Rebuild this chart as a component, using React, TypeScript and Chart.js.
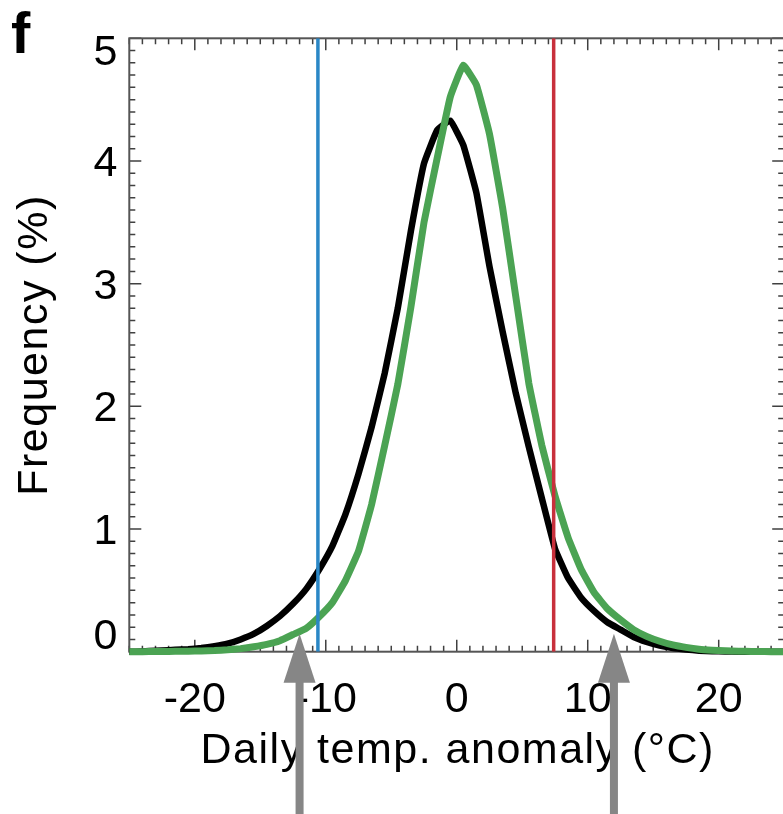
import React, { useEffect, useRef } from 'react';
import { Chart, registerables } from 'chart.js';

Chart.register(...registerables);

// ---- data ----
const tempBins = [
  -25, -24.5, -23.5, -22.5, -21.5, -20.5, -19.5, -18.5, -17.5, -16.5, -15.5, -14.5, -13.5,
  -12.5, -11.5, -10.5, -9.5, -8.5, -7.5, -6.5, -5.5, -4.5, -3.5, -2.5, -1.5, -0.5,
  0.5, 1.5, 2.5, 3.5, 4.5, 5.5, 6.5, 7.5, 8.5, 9.5, 10.5, 11.5, 12.5,
  13.5, 14.5, 15.5, 16.5, 17.5, 18.5, 19.5, 20.5, 21.5, 22.5, 23.5, 24.5, 25,
];

const blackFreq = [
  0, 0, 0.005, 0.01, 0.015, 0.02, 0.03, 0.045, 0.065, 0.1, 0.145, 0.21, 0.29,
  0.39, 0.51, 0.67, 0.86, 1.12, 1.45, 1.83, 2.27, 2.8, 3.43, 3.98, 4.25, 4.33,
  4.13, 3.74, 3.14, 2.61, 2.11, 1.67, 1.25, 0.84, 0.6, 0.44, 0.33, 0.24, 0.18,
  0.12, 0.08, 0.05, 0.03, 0.018, 0.008, 0.004, 0.002, 0, 0, 0, 0, 0,
];

const greenFreq = [
  0, 0, 0.001, 0.002, 0.003, 0.004, 0.006, 0.009, 0.015, 0.025, 0.04, 0.06, 0.09,
  0.14, 0.19, 0.285, 0.4, 0.58, 0.82, 1.2, 1.68, 2.18, 2.81, 3.5, 4.02, 4.52,
  4.78, 4.62, 4.22, 3.62, 2.9, 2.19, 1.68, 1.27, 0.93, 0.67, 0.48, 0.35, 0.26,
  0.18, 0.125, 0.085, 0.055, 0.035, 0.02, 0.012, 0.007, 0.004, 0.002, 0.001, 0, 0,
];

const coldThreshold = -10.6; // blue line
const warmThreshold = 7.4; // red line
const arrowPositions = [-12, 12];

const xRange = [-25, 25];
const yRange = [0, 5];
const xMajorTicks = [-20, -10, 0, 10, 20];
const xTickLabels = ['-20', '-10', '0', '10', '20'];
const yMajorTicks = [0, 1, 2, 3, 4, 5];
const yTickLabels = ['0', '1', '2', '3', '4', '5'];
const xTitle = 'Daily temp. anomaly (\u00B0C)';
const yTitle = 'Frequency (%)';
const panelLabel = 'f';

const FONT = '"Liberation Sans", Arial, Helvetica, sans-serif';

const framePlugin = {
  id: 'idlFrame',
  beforeDatasetsDraw(chart: any) {
    const { ctx, chartArea } = chart;
    const { left, right, top, bottom } = chartArea;
    const xs = chart.scales.x;
    const ys = chart.scales.y;
    ctx.save();
    ctx.strokeStyle = '#404040';
    ctx.lineWidth = 1.5;
    ctx.beginPath();
    for (let v = xRange[0]; v <= xRange[1]; v += 1) {
      const px = xs.getPixelForValue(v);
      const len = xMajorTicks.includes(v) ? 12 : 6;
      ctx.moveTo(px, bottom);
      ctx.lineTo(px, bottom - len);
      ctx.moveTo(px, top);
      ctx.lineTo(px, top + len);
    }
    for (let i = 0; i <= 50; i++) {
      const v = i / 10;
      const py = ys.getPixelForValue(v);
      const len = i % 10 === 0 ? 12 : 6;
      ctx.moveTo(left, py);
      ctx.lineTo(left + len, py);
      ctx.moveTo(right, py);
      ctx.lineTo(right - len, py);
    }
    ctx.stroke();
    ctx.strokeStyle = '#555555';
    ctx.lineWidth = 2;
    ctx.strokeRect(left, top, right - left, bottom - top);
    ctx.restore();
  },
  afterDraw(chart: any) {
    const { ctx, chartArea, height } = chart;
    const { left, right, top, bottom } = chartArea;
    const xs = chart.scales.x;
    const ys = chart.scales.y;
    ctx.save();
    ctx.fillStyle = '#000';
    ctx.font = `43px ${FONT}`;
    ctx.textAlign = 'center';
    ctx.textBaseline = 'alphabetic';
    xMajorTicks.forEach((v, i) => {
      ctx.fillText(xTickLabels[i], xs.getPixelForValue(v), bottom + 60);
    });
    ctx.textAlign = 'right';
    yMajorTicks.forEach((v, i) => {
      const py = ys.getPixelForValue(v);
      let base = py + 15;
      if (base - 29 < top) base = top + 27;
      if (base > bottom - 3) base = bottom - 3;
      ctx.fillText(yTickLabels[i], left - 12, base);
    });
    // titles (slightly wider set, as in the original)
    (ctx as any).letterSpacing = '1.5px';
    ctx.textAlign = 'center';
    ctx.fillText(xTitle, (left + right) / 2 + 1, bottom + 111);
    ctx.save();
    ctx.translate(47, (top + bottom) / 2);
    ctx.rotate(-Math.PI / 2);
    ctx.fillText(yTitle, 0, 0);
    ctx.restore();
    (ctx as any).letterSpacing = '0px';
    ctx.textAlign = 'left';
    ctx.font = `bold 58px ${FONT}`;
    ctx.fillText(panelLabel, 11, 53);
    // arrows
    ctx.fillStyle = '#868686';
    arrowPositions.forEach((v) => {
      const px = xs.getPixelForValue(v);
      const tipY = bottom - 18;
      const baseY = bottom + 31;
      ctx.fillRect(px - 4, baseY - 1, 8, height - baseY + 1);
      ctx.beginPath();
      ctx.moveTo(px, tipY);
      ctx.lineTo(px - 16, baseY);
      ctx.lineTo(px + 16, baseY);
      ctx.closePath();
      ctx.fill();
    });
    ctx.restore();
  },
};

export default function App() {
  const canvasRef = useRef<HTMLCanvasElement | null>(null);

  useEffect(() => {
    document.body.style.margin = '0';
    document.documentElement.style.overflow = 'hidden';
    document.body.style.overflow = 'hidden';
    const canvas = canvasRef.current;
    if (!canvas) return;
    const toPts = (ys: number[]) => tempBins.map((x, i) => ({ x, y: ys[i] }));
    const chart = new Chart(canvas, {
      type: 'line',
      data: {
        datasets: [
          {
            label: 'cold',
            data: [
              { x: coldThreshold, y: yRange[0] },
              { x: coldThreshold, y: yRange[1] },
            ],
            borderColor: '#2a87c6',
            borderWidth: 3.5,
            pointRadius: 0,
            order: 0,
          },
          {
            label: 'warm',
            data: [
              { x: warmThreshold, y: yRange[0] },
              { x: warmThreshold, y: yRange[1] },
            ],
            borderColor: '#c8303c',
            borderWidth: 3.5,
            pointRadius: 0,
            order: 0,
          },
          {
            label: 'future',
            data: toPts(greenFreq),
            borderColor: '#4ba353',
            borderWidth: 7,
            pointRadius: 0,
            tension: 0.1,
            clip: false as any,
            order: 1,
          },
          {
            label: 'present',
            data: toPts(blackFreq),
            borderColor: '#000000',
            borderWidth: 6.5,
            pointRadius: 0,
            tension: 0.1,
            clip: false as any,
            order: 2,
          },
        ],
      },
      options: {
        responsive: false,
        animation: false,
        events: [],
        layout: { padding: { left: 129.3, top: 38.3, right: 790 - 784.2, bottom: 814 - 651.7 } },
        plugins: { legend: { display: false }, tooltip: { enabled: false } },
        scales: {
          x: { type: 'linear', min: xRange[0], max: xRange[1], display: false },
          y: { type: 'linear', min: yRange[0], max: yRange[1], display: false },
        },
      },
      plugins: [framePlugin],
    });
    return () => chart.destroy();
  }, []);

  return <canvas ref={canvasRef} width={790} height={814} style={{ display: 'block' }} />;
}
